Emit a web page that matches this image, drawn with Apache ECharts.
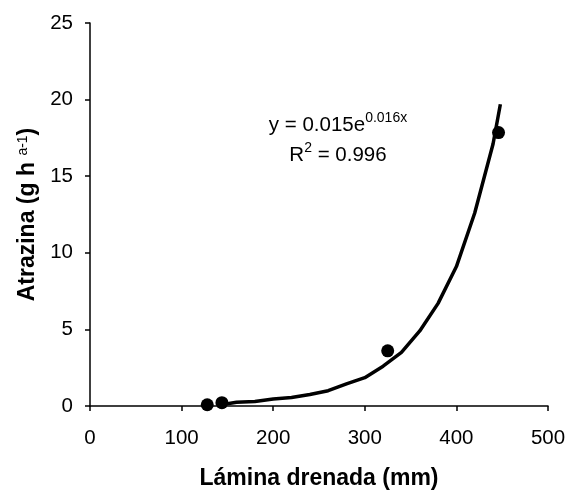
<!DOCTYPE html>
<html>
<head>
<meta charset="utf-8">
<script src="https://cdn.jsdelivr.net/npm/echarts@6/dist/echarts.min.js"></script>
<style>
html,body{margin:0;padding:0;background:#fff;}
#c{width:567px;height:490px;}
</style>
</head>
<body>
<div id="c"></div>
<script>
var obsX = [128, 144, 325, 446];
var obsY = [0.08, 0.22, 3.6, 17.85];
// Trendline as drawn in the picture (read at several positions)
var fitX = [150, 160, 180, 200, 220, 240, 260, 280, 300, 320, 340, 360, 380, 400, 420, 440, 448];
var fitY = [0.15, 0.25, 0.3, 0.45, 0.55, 0.75, 1.0, 1.45, 1.85, 2.6, 3.5, 4.9, 6.7, 9.1, 12.6, 17.1, 19.7];
var xTicks = [0, 100, 200, 300, 400, 500];
var yTicks = [0, 5, 10, 15, 20, 25];

var chart = echarts.init(document.getElementById('c'), null, {renderer: 'canvas'});
var font = 'Liberation Sans, Arial, sans-serif';
var option = {
  animation: false,
  grid: {left: 90, right: 19, top: 23, bottom: 84, containLabel: false, outerBoundsMode: 'none'},
  xAxis: {
    type: 'value', min: xTicks[0], max: xTicks[xTicks.length - 1], interval: 100,
    axisLine: {onZero: false, lineStyle: {color: '#000', width: 1.5}},
    axisTick: {show: true, length: 5, lineStyle: {color: '#000', width: 1.5}},
    axisLabel: {color: '#000', fontSize: 20.5, fontFamily: font, margin: 22},
    splitLine: {show: false},
    name: 'Lámina drenada (mm)', nameLocation: 'middle', nameGap: 61,
    nameTextStyle: {color: '#000', fontSize: 23, fontWeight: 'bold', fontFamily: font}
  },
  yAxis: {
    type: 'value', min: yTicks[0], max: yTicks[yTicks.length - 1], interval: 5,
    axisLine: {show: true, onZero: false, lineStyle: {color: '#000', width: 1.5}},
    axisTick: {show: true, length: 5, lineStyle: {color: '#000', width: 1.5}},
    axisLabel: {color: '#000', fontSize: 20.5, fontFamily: font, margin: 17},
    splitLine: {show: false},
    name: '{b|Atrazina (g h }{s|a-1}{b|)}', nameLocation: 'middle', nameGap: 50, nameRotate: 90,
    nameTextStyle: {
      rich: {
        b: {color: '#000', fontSize: 23, fontWeight: 'bold', fontFamily: font},
        s: {color: '#000', fontSize: 14, fontFamily: font, verticalAlign: 'top', padding: [0, 0, 10, 0]}
      }
    }
  },
  graphic: [
    {type: 'text', x: 338, y: 125, style: {
      text: '{n|y = 0.015e}{s|0.016x}', align: 'center', verticalAlign: 'middle',
      rich: {
        n: {fontSize: 20.5, fontFamily: font, fill: '#000'},
        s: {fontSize: 14, fontFamily: font, fill: '#000', padding: [0, 0, 13, 0]}
      }
    }},
    {type: 'text', x: 338, y: 155, style: {
      text: '{n|R}{s|2}{n| = 0.996}', align: 'center', verticalAlign: 'middle',
      rich: {
        n: {fontSize: 20.5, fontFamily: font, fill: '#000'},
        s: {fontSize: 14, fontFamily: font, fill: '#000', padding: [0, 0, 13, 0]}
      }
    }}
  ],
  series: [
    {
      type: 'line', data: fitX.map(function (x, i) { return [x, fitY[i]]; }),
      showSymbol: false, smooth: false,
      lineStyle: {color: '#000', width: 3.5}, z: 2
    },
    {
      type: 'scatter', data: obsX.map(function (x, i) { return [x, obsY[i]]; }),
      symbol: 'circle', symbolSize: 13, itemStyle: {color: '#000', opacity: 1}, z: 3
    }
  ]
};
chart.setOption(option);
</script>
</body>
</html>
